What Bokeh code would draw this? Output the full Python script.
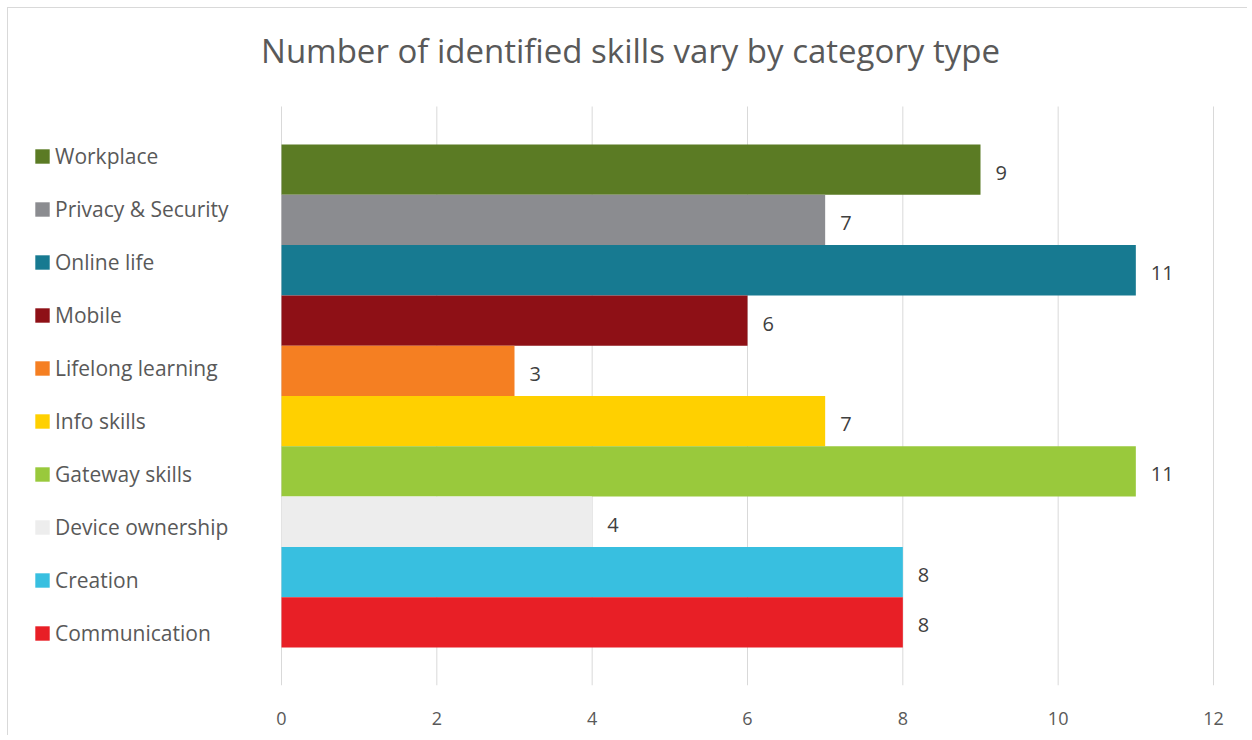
from bokeh.plotting import figure
from bokeh.models import ColumnDataSource, Legend, LegendItem, Label, Range1d, FixedTicker
from bokeh.embed import file_html
from bokeh.resources import INLINE

categories = ["Workplace", "Privacy & Security", "Online life", "Mobile", "Lifelong learning",
              "Info skills", "Gateway skills", "Device ownership", "Creation", "Communication"]
values = [9, 7, 11, 6, 3, 7, 11, 4, 8, 8]
colors = ["#5B7B24", "#8B8C90", "#177A91", "#8E1016", "#F57F22",
          "#FFD000", "#99C93C", "#EDEDED", "#38BFE0", "#E81F26"]
x_ticks = [0, 2, 4, 6, 8, 10, 12]
title_text = "Number of identified skills vary by category type"

n = len(categories)
ypos = [n - 1 - i + 0.5 for i in range(n)]
src = ColumnDataSource(dict(cat=categories, val=values, col=colors, y=ypos,
                            lab=[str(v) for v in values]))

FONT = "Open Sans"
W, H = 1240, 728
FRAME_BOTTOM = 677          # pixel row of the value-axis baseline
X0_PX, X12_PX = 273, 1205   # pixel columns of 0 and 12
PAD = 0.755                 # gap (in bar heights) above/below the bar block
px_per_x = (X12_PX - X0_PX) / 12.0
px_per_y = (579.0) / (n + 2 * PAD)
x_start = -X0_PX / px_per_x
x_end = 12 + (W - X12_PX) / px_per_x
y_start = -PAD
y_end = n + PAD + (FRAME_BOTTOM - 579.0) / px_per_y

p = figure(width=W, height=H, output_backend="svg", toolbar_location=None,
           x_range=Range1d(x_start, x_end), y_range=Range1d(y_start, y_end),
           min_border_left=0, min_border_right=0, min_border_top=0,
           min_border_bottom=H - FRAME_BOTTOM)
p.outline_line_color = None
p.background_fill_color = "white"
p.border_fill_color = "white"
p.styles = {"border-top": "1px solid #d9d9d9", "border-left": "1px solid #d9d9d9",
            "margin-top": "7px", "margin-left": "7px"}

# gridlines limited to the plot area
p.segment(x0=x_ticks, x1=x_ticks, y0=[y_start] * len(x_ticks), y1=[n + PAD] * len(x_ticks),
          line_color="#d9d9d9", line_width=1, level="underlay")

r = p.hbar(y="y", right="val", left=0, height=1.0, fill_color="col", line_color=None, source=src)

p.text(x="val", y="y", text="lab", source=src, x_offset=15, y_offset=3,
       text_baseline="middle", text_align="left", text_font_size="20px",
       text_color="#404040", text_font={"value": FONT})

p.yaxis.visible = False
p.xgrid.visible = False
p.ygrid.visible = False
p.xaxis.ticker = FixedTicker(ticks=x_ticks)
p.xaxis.axis_line_color = None
p.xaxis.major_tick_line_color = None
p.xaxis.minor_tick_line_color = None
p.xaxis.major_label_standoff = 20
p.xaxis.major_label_text_font = FONT
p.xaxis.major_label_text_font_size = "18px"
p.xaxis.major_label_text_color = "#595959"

items = [LegendItem(label=c, renderers=[r], index=i) for i, c in enumerate(categories)]
legend = Legend(items=items, location=(25, 38), padding=0, margin=0,
                glyph_width=18, glyph_height=18, label_height=20, spacing=25,
                label_standoff=4, label_text_font=FONT, label_text_font_size="21px",
                label_text_color="#595959", border_line_color=None,
                background_fill_alpha=0, inactive_fill_alpha=0)
p.add_layout(legend)

title = Label(x=622, y=FRAME_BOTTOM - 42, x_units="screen", y_units="screen",
              text=title_text,
              text_align="center", text_baseline="middle", text_font=FONT,
              text_font_size="33px", text_color="#595959")
p.add_layout(title)

open("out.html", "w").write(file_html(p, INLINE))
